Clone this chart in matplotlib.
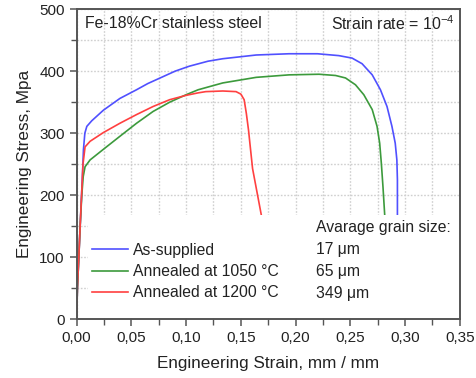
import matplotlib
matplotlib.use('Agg')
import matplotlib.pyplot as plt
from matplotlib.ticker import MultipleLocator, FuncFormatter
from matplotlib.patches import Rectangle

plt.rcParams['font.family'] = ['Liberation Sans', 'DejaVu Sans']
plt.rcParams['mathtext.fontset'] = 'custom'
plt.rcParams['mathtext.rm'] = 'Liberation Sans'

# stress-strain curves
strain_as = [0, 0.0007, 0.002, 0.0032, 0.0045, 0.0055, 0.0062, 0.0075, 0.0093, 0.0138, 0.0244,
             0.0395, 0.0547, 0.065, 0.08, 0.09, 0.103, 0.12, 0.1335, 0.164, 0.194, 0.22, 0.2395,
             0.2516, 0.2607, 0.27, 0.2775, 0.2835, 0.288, 0.291, 0.2925, 0.293, 0.293]
stress_as = [0, 50, 100, 150, 200, 240, 273, 300, 311, 320, 337,
             356, 370, 380, 392, 400, 408, 416, 420, 426, 428, 428, 425,
             421, 412, 394, 370, 343, 311, 284, 257, 225, 168]

strain_1050 = [0, 0.0007, 0.002, 0.0032, 0.0047, 0.006, 0.0077, 0.0123, 0.0244, 0.0395, 0.0547,
               0.0698, 0.085, 0.1, 0.111, 0.1335, 0.164, 0.194, 0.2214, 0.2365, 0.2456, 0.2547,
               0.2623, 0.27, 0.2744, 0.2768, 0.2783, 0.2798, 0.2814]
stress_1050 = [0, 50, 100, 150, 200, 230, 246, 257, 274, 295, 316,
               335, 350, 362, 370, 381, 390, 394, 395, 393, 389, 378,
               362, 338, 311, 284, 252, 214, 168]

strain_1200 = [0, 0.0007, 0.002, 0.0032, 0.0045, 0.0058, 0.0077, 0.0123, 0.0244, 0.0395, 0.0547,
               0.0698, 0.085, 0.1, 0.111, 0.118, 0.1335, 0.1456, 0.150, 0.153, 0.155, 0.157,
               0.1586, 0.1607, 0.1686]
stress_1200 = [0, 50, 100, 150, 200, 250, 278, 287, 301, 316, 330,
               343, 354, 361, 365, 367, 368, 367, 363, 354, 332, 305,
               278, 243, 169]

labels = ['As-supplied', 'Annealed at 1050 °C', 'Annealed at 1200 °C']
grain_sizes = ['17 μm', '65 μm', '349 μm']
colors = ['#5050ff', '#3c9a3c', '#ff4040']

fig = plt.figure(figsize=(4.76, 3.78), dpi=100)
ax = fig.add_axes([0.161, 0.155, 0.805, 0.821])

ax.plot(strain_as, stress_as, color=colors[0], lw=1.2, label=labels[0], zorder=2)
ax.plot(strain_1050, stress_1050, color=colors[1], lw=1.2, label=labels[1], zorder=2)
ax.plot(strain_1200, stress_1200, color=colors[2], lw=1.2, label=labels[2], zorder=2)

ax.set_xlim(0, 0.35)
ax.set_ylim(0, 500)
ax.xaxis.set_major_locator(MultipleLocator(0.05))
ax.xaxis.set_minor_locator(MultipleLocator(0.025))
ax.yaxis.set_major_locator(MultipleLocator(100))
ax.yaxis.set_minor_locator(MultipleLocator(50))
ax.xaxis.set_major_formatter(FuncFormatter(lambda v, p: f'{v:.2f}'.replace('.', ',')))

ax.grid(True, which='both', color='#cfcfcf', linestyle=(0, (1.2, 1.2)), linewidth=1.0, zorder=0)
ax.set_axisbelow(True)
for s in ax.spines.values():
    s.set_color('#555555')
    s.set_linewidth(1.4)
ax.tick_params(which='major', direction='out', length=5, width=1.1, color='#555555',
               labelsize=11, labelcolor='#222222')
ax.tick_params(which='minor', direction='out', length=4, width=1.0, color='#555555')

# white panel behind the legend
ax.add_patch(Rectangle((0.03, 0.004), 0.968, 0.332, transform=ax.transAxes,
                       facecolor='white', edgecolor='none', zorder=3))

leg = ax.legend(loc='upper left', bbox_to_anchor=(0.0404, 0.247), frameon=False,
                fontsize=11.3, handlelength=2.3, handletextpad=0.33, labelspacing=0.4,
                borderpad=0, borderaxespad=0)
leg.set_zorder(5)
for t in leg.get_texts():
    t.set_color('#222222')

ax.text(0.6245, 0.297, 'Avarage grain size:', transform=ax.transAxes, fontsize=11.3,
        va='center', ha='left', color='#222222', zorder=6)
for i, g in enumerate(grain_sizes):
    ax.text(0.6245, 0.2266 - i * 0.0709, g, transform=ax.transAxes, fontsize=11.3,
            va='center', ha='left', color='#222222', zorder=6)

ax.text(0.022, 0.952, 'Fe-18%Cr stainless steel', transform=ax.transAxes, fontsize=11.4,
        va='center', ha='left', color='#222222')
ax.text(0.987, 0.952, r'Strain rate = 10$^{-4}$', transform=ax.transAxes, fontsize=11.4,
        va='center', ha='right', color='#222222')

ax.set_xlabel('Engineering Strain, mm / mm', fontsize=12.3, color='#222222', labelpad=8)
ax.set_ylabel('Engineering Stress, Mpa', fontsize=12.3, color='#222222', labelpad=5)

fig.savefig('out.png', dpi=100)
